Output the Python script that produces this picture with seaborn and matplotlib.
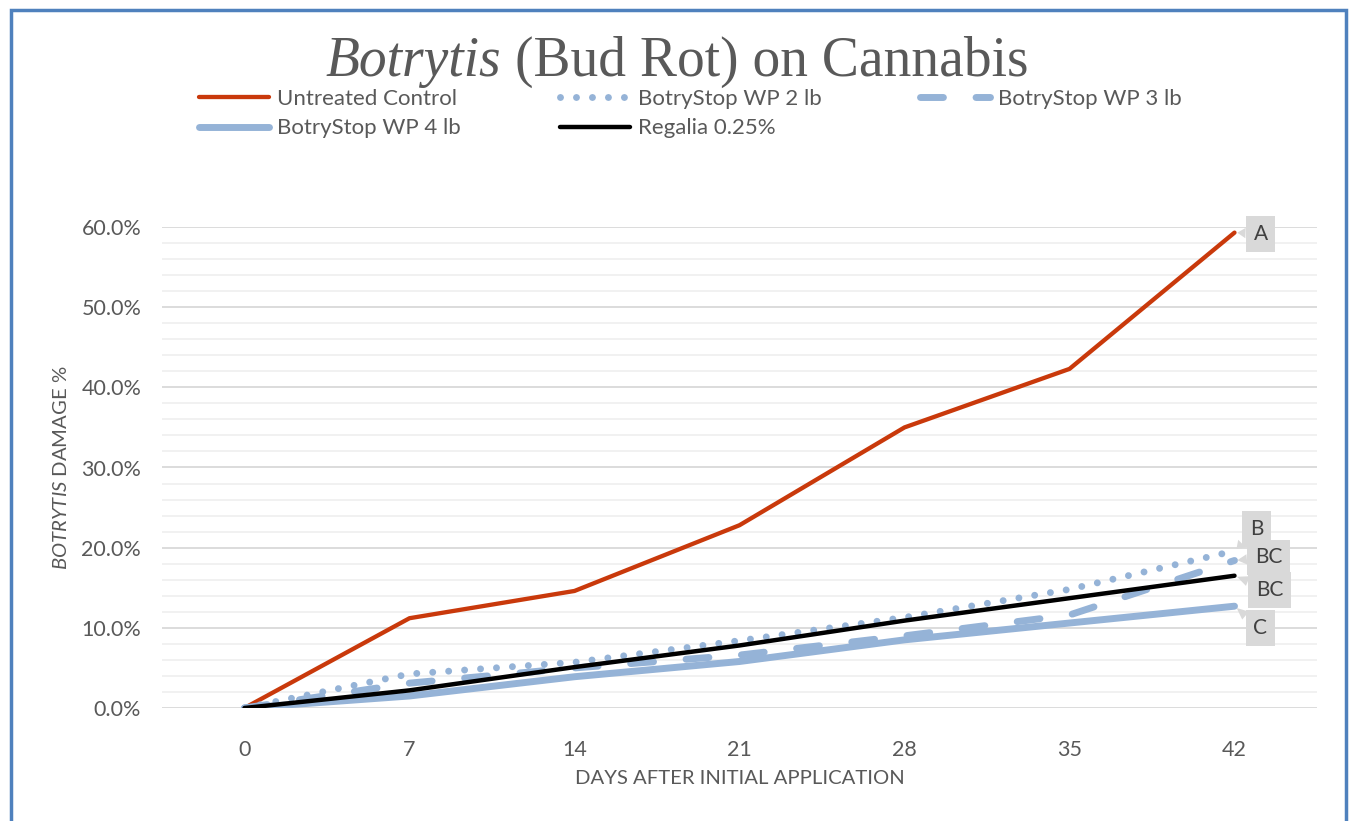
import numpy as np
import pandas as pd
import matplotlib
matplotlib.use("Agg")
import matplotlib.pyplot as plt
import seaborn as sns
from matplotlib.offsetbox import TextArea, HPacker, AnchoredOffsetbox
from matplotlib.patches import Rectangle
from matplotlib.lines import Line2D

# ---------------- data (percent) ----------------
days = [0, 7, 14, 21, 28, 35, 42]
untreated = [0.0, 11.2, 14.6, 22.8, 35.0, 42.3, 59.3]
botry_2lb = [0.0, 4.25, 5.7, 8.4, 11.3, 14.8, 19.6]
botry_3lb = [0.0, 3.1, 5.0, 6.6, 9.0, 11.6, 18.4]
botry_4lb = [0.0, 1.5, 3.9, 5.8, 8.5, 10.6, 12.7]
regalia = [0.0, 2.2, 5.1, 7.8, 10.9, 13.7, 16.5]
series_names = ["Untreated Control", "BotryStop WP 2 lb", "BotryStop WP 3 lb",
                "BotryStop WP 4 lb", "Regalia 0.25%"]
end_labels = ["A", "B", "BC", "BC", "C"]
yticks_pct = [0, 10, 20, 30, 40, 50, 60]
title_italic = "Botrytis"
title_rest = "(Bud Rot) on Cannabis"
xlabel = "DAYS AFTER INITIAL APPLICATION"

values = {
    "Untreated Control": untreated,
    "BotryStop WP 2 lb": botry_2lb,
    "BotryStop WP 3 lb": botry_3lb,
    "BotryStop WP 4 lb": botry_4lb,
    "Regalia 0.25%": regalia,
}
df = pd.DataFrame(
    [(n, d, v / 100.0) for n in series_names for d, v in zip(days, values[n])],
    columns=["series", "day", "value"],
)

# ---------------- styles ----------------
RED = "#c9390b"
BLUE = "#95b3d7"
styles = {
    "Untreated Control": dict(color=RED, lw=3.1, ls="-"),
    "BotryStop WP 2 lb": dict(color=BLUE, lw=5.0, ls=(0, (0.001, 2.3))),
    "BotryStop WP 3 lb": dict(color=BLUE, lw=5.0, ls=(0, (3.3, 4.7))),
    "BotryStop WP 4 lb": dict(color=BLUE, lw=5.0, ls="-"),
    "Regalia 0.25%": dict(color="black", lw=3.2, ls="-"),
}
zorders = {"Untreated Control": 3, "BotryStop WP 2 lb": 3.1, "BotryStop WP 3 lb": 3.2,
           "BotryStop WP 4 lb": 3.3, "Regalia 0.25%": 3.4}

sns.set_theme(style="white")
plt.rcParams["font.family"] = ["Lato", "DejaVu Sans"]
plt.rcParams["mathtext.fontset"] = "custom"
plt.rcParams["mathtext.rm"] = "Lato"
plt.rcParams["mathtext.it"] = "Lato:italic"

TXT = "#595959"
W, H = 1353, 821
fig = plt.figure(figsize=(W / 100, H / 100), dpi=100)
fig.patch.set_facecolor("white")
ax = fig.add_axes([162 / W, 1 - 708 / H, (1317 - 162) / W, (708 - 227) / H])

for name in series_names:
    st = styles[name]
    sns.lineplot(data=df[df["series"] == name], x="day", y="value", ax=ax,
                 color=st["color"], linewidth=st["lw"], linestyle=st["ls"],
                 dash_capstyle="round", solid_capstyle="round",
                 solid_joinstyle="round", errorbar=None, legend=False,
                 zorder=zorders[name])

ax.set_xlim(-3.5, 45.5)
ax.set_ylim(0, 0.6)
ax.set_xticks(days)
ax.set_xticklabels([str(d) for d in days])
ax.set_yticks([v / 100 for v in yticks_pct])
ax.set_yticklabels([f"{v:.1f}%" for v in yticks_pct])
ax.set_yticks(np.arange(0, 0.601, 0.02), minor=True)
ax.grid(which="minor", axis="y", color="#f0f0f0", lw=1.3)
ax.grid(which="major", axis="y", color="#d9d9d9", lw=1.3)
ax.grid(which="both", axis="x", visible=False)
ax.set_axisbelow(True)
ax.tick_params(which="both", length=0, labelsize=15.5, labelcolor=TXT)
ax.tick_params(axis="x", pad=23)
ax.tick_params(axis="y", pad=15)
for s in ax.spines.values():
    s.set_visible(False)

ax.set_xlabel(xlabel, fontsize=14.6, color=TXT, labelpad=7)
ax.set_ylabel(r"$\mathit{BOTRYTIS}$ DAMAGE %", fontsize=14.6, color=TXT)
ax.yaxis.set_label_coords(-0.08, 0.5)

# end labels (callouts)
offsets = [(26, -1), (22, 22), (34, 3), (35, -14), (26, -22)]
label_series = ["Untreated Control", "BotryStop WP 2 lb", "BotryStop WP 3 lb",
                "Regalia 0.25%", "BotryStop WP 4 lb"]
for name, lbl, off in zip(label_series, end_labels, offsets):
    yv = values[name][-1] / 100.0
    ax.annotate(lbl, xy=(days[-1], yv), xytext=off, textcoords="offset pixels",
                ha="center", va="center", fontsize=15, color="#404040",
                bbox=dict(boxstyle="square,pad=0.38", fc="#d9d9d9", ec="none"),
                arrowprops=dict(arrowstyle="wedge,tail_width=0.5,shrink_factor=0.5",
                                fc="#d9d9d9", ec="none", shrinkA=0, shrinkB=2),
                annotation_clip=False, zorder=6)

# legend
handles = {}
for name in series_names:
    st = styles[name]
    handles[name] = Line2D([], [], color=st["color"], lw=st["lw"], ls=st["ls"],
                           dash_capstyle="round", solid_capstyle="round")
order = ["Untreated Control", "BotryStop WP 4 lb", "BotryStop WP 2 lb",
         "Regalia 0.25%", "BotryStop WP 3 lb"]
fig.legend([handles[n] for n in order], order, ncol=3, loc="upper left",
           bbox_to_anchor=(199 / W, 1 - 89 / H), frameon=False, fontsize=16,
           handlelength=3.15, handletextpad=0.36, columnspacing=4.45,
           labelspacing=0.42, borderpad=0, borderaxespad=0, labelcolor=TXT)

# title
tp = dict(fontsize=40, color=TXT, family="Liberation Serif")
ta1 = TextArea(title_italic, textprops=dict(tp, style="italic"))
ta2 = TextArea(title_rest, textprops=tp)
pack = HPacker(children=[ta1, ta2], align="baseline", pad=0, sep=10)
anch = AnchoredOffsetbox(loc="center", child=pack, pad=0, borderpad=0, frameon=False,
                         bbox_to_anchor=(677 / W, 1 - 62 / H),
                         bbox_transform=fig.transFigure)
fig.add_artist(anch)

# frame
fig.add_artist(Rectangle((10.5 / W, -0.05), (1345.5 - 10.5) / W, 1.05 - 10.5 / H,
                         fill=False, ec="#4f81bd", lw=2.5, transform=fig.transFigure,
                         clip_on=False))

fig.savefig("out.png", dpi=100, facecolor="white")
